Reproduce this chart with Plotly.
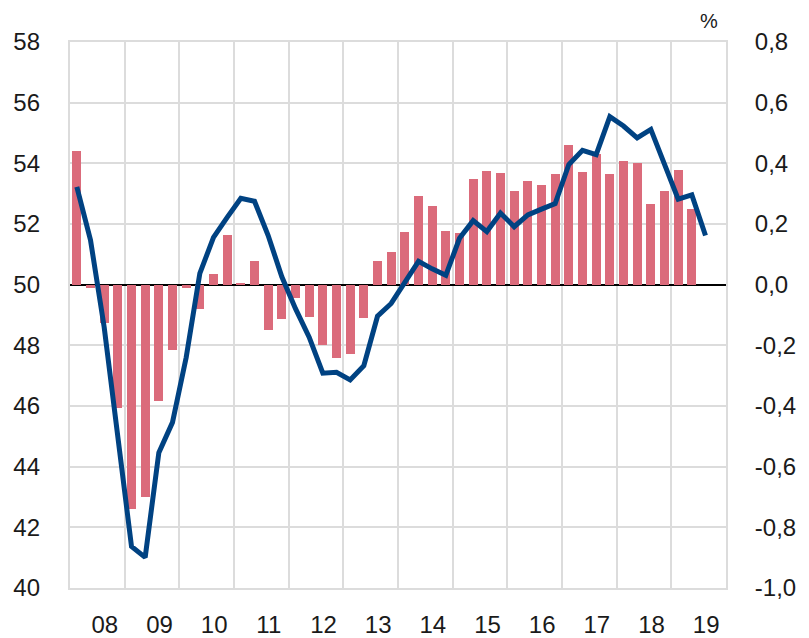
import plotly.graph_objects as go

# Quarterly periods 2008Q1 .. 2019Q3 (year fraction at quarter mid-point)
years = list(range(2008, 2020))
quarters_bar = [y + (q - 0.5) / 4 for y in years for q in range(1, 5)][:46]
quarters_line = [y + (q - 0.5) / 4 for y in years for q in range(1, 5)][:47]

# Bars (right axis, %)
bar_values = [
    0.44, -0.01, -0.125, -0.405, -0.74, -0.70, -0.385, -0.215,
    -0.01, -0.08, 0.035, 0.165, 0.006, 0.077, -0.151, -0.114,
    -0.044, -0.106, -0.20, -0.243, -0.228, -0.11, 0.079, 0.108,
    0.173, 0.291, 0.258, 0.176, 0.17, 0.347, 0.376, 0.368,
    0.309, 0.342, 0.328, 0.366, 0.46, 0.371, 0.43, 0.366,
    0.408, 0.40, 0.267, 0.31, 0.377, 0.251,
]

# Line (left axis, index)
line_values = [
    53.22, 51.47, 48.6, 44.9, 41.37, 41.01, 44.46, 45.46,
    47.6, 50.37, 51.56, 52.22, 52.85, 52.75, 51.62, 50.26,
    49.21, 48.27, 47.08, 47.11, 46.86, 47.33, 48.96, 49.38,
    50.05, 50.77, 50.52, 50.31, 51.53, 52.11, 51.75, 52.36,
    51.91, 52.30, 52.49, 52.67, 53.96, 54.43, 54.29, 55.54,
    55.23, 54.84, 55.12, 53.96, 52.82, 52.96, 51.62,
]

x_ticktext = ["08", "09", "10", "11", "12", "13", "14", "15", "16", "17", "18", "19"]
left_tickvals = [40, 42, 44, 46, 48, 50, 52, 54, 56, 58]
right_tickvals = [-1.0, -0.8, -0.6, -0.4, -0.2, 0.0, 0.2, 0.4, 0.6, 0.8]
right_ticktext = ["-1,0", "-0,8", "-0,6", "-0,4", "-0,2", "0,0", "0,2", "0,4", "0,6", "0,8"]

BAR_COLOR = "#DB6B7B"
LINE_COLOR = "#004282"
GRID = "#DCDCDC"
FONT = "Liberation Sans, Arial, sans-serif"
TXT = "#1a1a1a"
FS = 24

fig = go.Figure()
fig.add_trace(go.Bar(
    x=quarters_bar, y=bar_values, yaxis="y",
    marker=dict(color=BAR_COLOR, line=dict(width=0)),
    width=0.165, showlegend=False,
))
fig.add_trace(go.Scatter(
    x=quarters_line, y=line_values, yaxis="y2", mode="lines",
    line=dict(color=LINE_COLOR, width=5), showlegend=False,
))

# the page body has an 8px margin, so the figure is 8px smaller than the window
fig.update_layout(
    width=801, height=630,
    margin=dict(l=62, r=83, t=34, b=50),
    paper_bgcolor="white", plot_bgcolor="white",
    font=dict(family=FONT, size=FS, color=TXT),
    xaxis=dict(
        range=[2008, 2020],
        automargin=False,
        tickmode="array",
        tickvals=[y + 0.637 for y in years],
        ticktext=x_ticktext,
        showgrid=False,
        ticks="",
        ticklabelstandoff=14,
        minor=dict(tickmode="linear", tick0=2008, dtick=1, showgrid=True,
                   gridcolor=GRID, gridwidth=1.5, ticks=""),
        showline=True, mirror=True, linecolor=GRID, linewidth=2,
        zeroline=False,
        tickfont=dict(size=FS, color=TXT),
    ),
    yaxis=dict(
        side="right",
        automargin=False,
        range=[-1.0, 0.8],
        tickmode="array",
        tickvals=right_tickvals,
        ticktext=right_ticktext,
        showgrid=True, gridcolor=GRID, gridwidth=1.5,
        zeroline=True, zerolinecolor="black", zerolinewidth=2,
        showline=True, mirror=True, linecolor=GRID, linewidth=2,
        ticks="", ticklabelstandoff=22,
        tickfont=dict(size=FS, color=TXT),
    ),
    yaxis2=dict(
        side="left", overlaying="y",
        automargin=False,
        range=[40, 58],
        tickmode="array",
        tickvals=left_tickvals,
        showgrid=False, zeroline=False,
        ticks="", ticklabelstandoff=29,
        tickfont=dict(size=FS, color=TXT),
    ),
    annotations=[dict(
        text="%", xref="paper", yref="paper", x=1.0, y=1.0,
        xanchor="right", yanchor="bottom", yshift=8, xshift=-6,
        showarrow=False, font=dict(size=20, color=TXT),
    )],
    bargap=0,
)

fig.write_html("out.html")
